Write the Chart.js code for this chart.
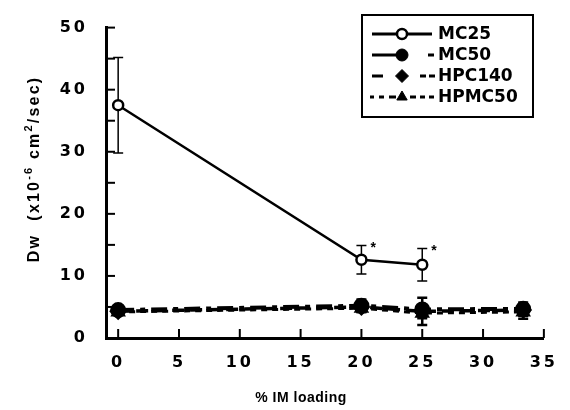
<!DOCTYPE html>
<html>
<head>
<meta charset="utf-8">
<script src="https://cdn.jsdelivr.net/npm/chart.js@4/dist/chart.umd.min.js"></script>
<style>
html,body{margin:0;padding:0;background:#fff;}
#wrap{width:570px;height:410px;position:relative;}
</style>
</head>
<body>
<div id="wrap"><canvas id="c" width="570" height="410"></canvas></div>
<script>
// ---- data ----
const seriesNames = ["MC25", "MC50", "HPC140", "HPMC50"];
const mc25X = [0, 20, 25];
const mc25Y = [37.5, 12.6, 11.8];
const mc25Err = [7.7, 2.3, 2.6];
const lowX = [0, 20, 25, 33.3];
const mc50Y = [4.5, 5.2, 4.6, 4.7];
const mc50Err = [0.4, 1.0, 0.6, 1.0];
const hpc140Y = [4.3, 5.0, 4.3, 4.5];
const hpc140Err = [0.3, 0.8, 2.2, 0.9];
const hpmc50Y = [4.2, 4.8, 4.0, 4.2];
const hpmc50Err = [0.3, 0.5, 0.8, 1.1];
const xTickValues = [0, 5, 10, 15, 20, 25, 30, 35];
const yTickValues = [0, 10, 20, 30, 40, 50];
const yMinorTickValues = [0, 5, 10, 15, 20, 25, 30, 35, 40, 45, 50];
const starIndices = [1, 2]; // MC25 points marked with *
const xTitle = "% IM loading";
const yTitleParts = ["Dw  (x10", "-6", " cm", "2", "/sec)"];

const pts = (xs, ys) => xs.map((x, i) => ({x: x, y: ys[i]}));
const FONT = "'Liberation Sans', Arial, sans-serif";
const HEAVY = "'DejaVu Sans', 'Liberation Sans', sans-serif";

const datasets = [
  {label: seriesNames[0], data: pts(mc25X, mc25Y), err: mc25Err, borderColor: '#000', backgroundColor: '#fff',
   borderWidth: 2.5, pointStyle: 'circle', pointRadius: 5, pointBorderWidth: 2.5, errWidth: 1.5, capW: 5, order: 0},
  {label: seriesNames[1], data: pts(lowX, mc50Y), err: mc50Err, borderColor: '#000', backgroundColor: '#000',
   borderWidth: 4, borderDash: [16, 6, 5, 6], pointStyle: 'circle', pointRadius: 6, errWidth: 2.5, capW: 5, order: 1},
  {label: seriesNames[2], data: pts(lowX, hpc140Y), err: hpc140Err, borderColor: '#000', backgroundColor: '#000',
   borderWidth: 3.5, borderDash: [12, 6], pointStyle: 'rectRot', pointRadius: 6.5, errWidth: 2.5, capW: 5, order: 2},
  {label: seriesNames[3], data: pts(lowX, hpmc50Y), err: hpmc50Err, borderColor: '#000', backgroundColor: '#000',
   borderWidth: 3, borderDash: [6, 5], pointStyle: 'triangle', pointRadius: 6, errWidth: 2.5, capW: 5, order: 3}
];
datasets.forEach(d => { d.pointBackgroundColor = d.backgroundColor; d.pointBorderColor = '#000'; d.tension = 0; d.clip = false; d.fill = false; });

const chromePlugin = {
  id: 'chrome',
  beforeDraw(chart) {
    chart.ctx.letterSpacing = '3px';
  },
  beforeDatasetsDraw(chart) {
    const ctx = chart.ctx;
    const xs = chart.scales.x, ys = chart.scales.y;
    ctx.save();
    ctx.letterSpacing = '0px';
    ctx.strokeStyle = '#000';
    ctx.lineCap = 'butt';
    // inward tick marks
    ctx.lineWidth = 2;
    xTickValues.forEach(v => {
      const px = xs.getPixelForValue(v);
      ctx.beginPath(); ctx.moveTo(px, ys.bottom); ctx.lineTo(px, ys.bottom - 9); ctx.stroke();
    });
    yMinorTickValues.forEach(v => {
      const py = ys.getPixelForValue(v);
      ctx.beginPath(); ctx.moveTo(xs.left, py); ctx.lineTo(xs.left + 9, py); ctx.stroke();
    });
    // error bars
    chart.data.datasets.forEach(ds => {
      ds.data.forEach((p, i) => {
        const e = ds.err[i];
        const px = xs.getPixelForValue(p.x);
        const top = ys.getPixelForValue(p.y + e);
        const bot = ys.getPixelForValue(p.y - e);
        ctx.lineWidth = ds.errWidth;
        ctx.beginPath();
        ctx.moveTo(px, top); ctx.lineTo(px, bot);
        ctx.moveTo(px - ds.capW, top); ctx.lineTo(px + ds.capW, top);
        ctx.moveTo(px - ds.capW, bot); ctx.lineTo(px + ds.capW, bot);
        ctx.stroke();
      });
    });
    ctx.restore();
  },
  afterDraw(chart) {
    const ctx = chart.ctx;
    const xs = chart.scales.x, ys = chart.scales.y;
    ctx.save();
    ctx.fillStyle = '#000';
    // asterisks
    ctx.letterSpacing = '0px';
    ctx.font = 'bold 14px ' + FONT;
    ctx.textAlign = 'left'; ctx.textBaseline = 'middle';
    const d0 = chart.data.datasets[0];
    starIndices.forEach(i => {
      const p = d0.data[i];
      const px = xs.getPixelForValue(p.x) + 9;
      const py = ys.getPixelForValue(p.y + d0.err[i]) + 3;
      ctx.fillText('*', px, py);
    });
    // x title
    ctx.letterSpacing = '0.5px';
    ctx.font = 'bold 14px ' + FONT;
    ctx.textAlign = 'center'; ctx.textBaseline = 'middle';
    ctx.fillText(xTitle, 301, 398);
    // y title (rotated, with superscripts)
    ctx.translate(35, 169);
    ctx.rotate(-Math.PI / 2);
    const big = 'bold 16px ' + FONT, small = 'bold 11px ' + FONT;
    ctx.letterSpacing = '2.2px';
    let total = 0;
    yTitleParts.forEach((t, i) => { ctx.font = (i % 2) ? small : big; total += ctx.measureText(t).width; });
    let cx = -total / 2;
    ctx.textAlign = 'left'; ctx.textBaseline = 'middle';
    yTitleParts.forEach((t, i) => {
      ctx.font = (i % 2) ? small : big;
      ctx.fillText(t, cx, (i % 2) ? -6 : 0);
      cx += ctx.measureText(t).width;
    });
    ctx.restore();

    // legend
    ctx.save();
    ctx.letterSpacing = '0px';
    ctx.strokeStyle = '#000';
    ctx.lineWidth = 2;
    ctx.strokeRect(362, 15, 171, 102);
    const rowY = [34, 55, 76, 97];
    chart.data.datasets.forEach((ds, i) => {
      const y = rowY[i];
      ctx.save();
      ctx.lineWidth = 3;
      ctx.beginPath();
      if (i === 0) { ctx.moveTo(372, y); ctx.lineTo(432, y); }
      else if (i === 1) { ctx.moveTo(372, y); ctx.lineTo(402, y); ctx.moveTo(428, y); ctx.lineTo(434, y); }
      else if (i === 2) { ctx.moveTo(372, y); ctx.lineTo(383, y); ctx.moveTo(420, y); ctx.lineTo(426, y); ctx.moveTo(429, y); ctx.lineTo(435, y); }
      else { ctx.moveTo(370, y); ctx.lineTo(374, y); ctx.moveTo(379, y); ctx.lineTo(384, y); ctx.moveTo(389, y); ctx.lineTo(396, y);
             ctx.moveTo(410, y); ctx.lineTo(416, y); ctx.moveTo(420, y); ctx.lineTo(425, y); ctx.moveTo(429, y); ctx.lineTo(434, y); }
      ctx.stroke();
      ctx.restore();
      ctx.save();
      ctx.lineWidth = ds.pointBorderWidth || 1;
      ctx.fillStyle = ds.backgroundColor; ctx.strokeStyle = '#000';
      Chart.helpers.drawPoint(ctx, {pointStyle: ds.pointStyle, radius: ds.pointRadius, borderWidth: ds.pointBorderWidth || 1, rotation: 0}, 402, y);
      ctx.restore();
      ctx.font = 'bold 17px ' + HEAVY;
      ctx.fillStyle = '#000';
      ctx.textAlign = 'left'; ctx.textBaseline = 'middle';
      ctx.fillText(ds.label, 438, y + 1);
    });
    ctx.restore();
    chart.ctx.letterSpacing = '0px';
  }
};

new Chart(document.getElementById('c'), {
  type: 'line',
  data: {datasets: datasets},
  options: {
    responsive: false,
    animation: false,
    devicePixelRatio: 1,
    layout: {padding: {top: 19, right: 17, left: 0, bottom: 0}},
    plugins: {legend: {display: false}, tooltip: {enabled: false}},
    elements: {line: {borderCapStyle: 'butt'}},
    scales: {
      x: {
        type: 'linear', min: -1, max: 35,
        afterBuildTicks: s => { s.ticks = xTickValues.map(v => ({value: v})); },
        afterFit: s => { s.height = 72; },
        grid: {display: true, drawOnChartArea: false, drawTicks: false},
        border: {display: true, color: '#000', width: 3},
        ticks: {color: '#000', padding: 15, font: {family: HEAVY, size: 16, weight: 'bold'}, maxRotation: 0, autoSkip: false,
                callback: v => String(v)}
      },
      y: {
        min: 0, max: 50,
        afterBuildTicks: s => { s.ticks = yTickValues.map(v => ({value: v})); },
        afterFit: s => { s.width = 106; },
        grid: {display: true, drawOnChartArea: false, drawTicks: false},
        border: {display: true, color: '#000', width: 3},
        ticks: {color: '#000', padding: 18, font: {family: HEAVY, size: 16, weight: 'bold'}, autoSkip: false,
                callback: v => String(v)}
      }
    }
  },
  plugins: [chromePlugin]
});
</script>
</body>
</html>
